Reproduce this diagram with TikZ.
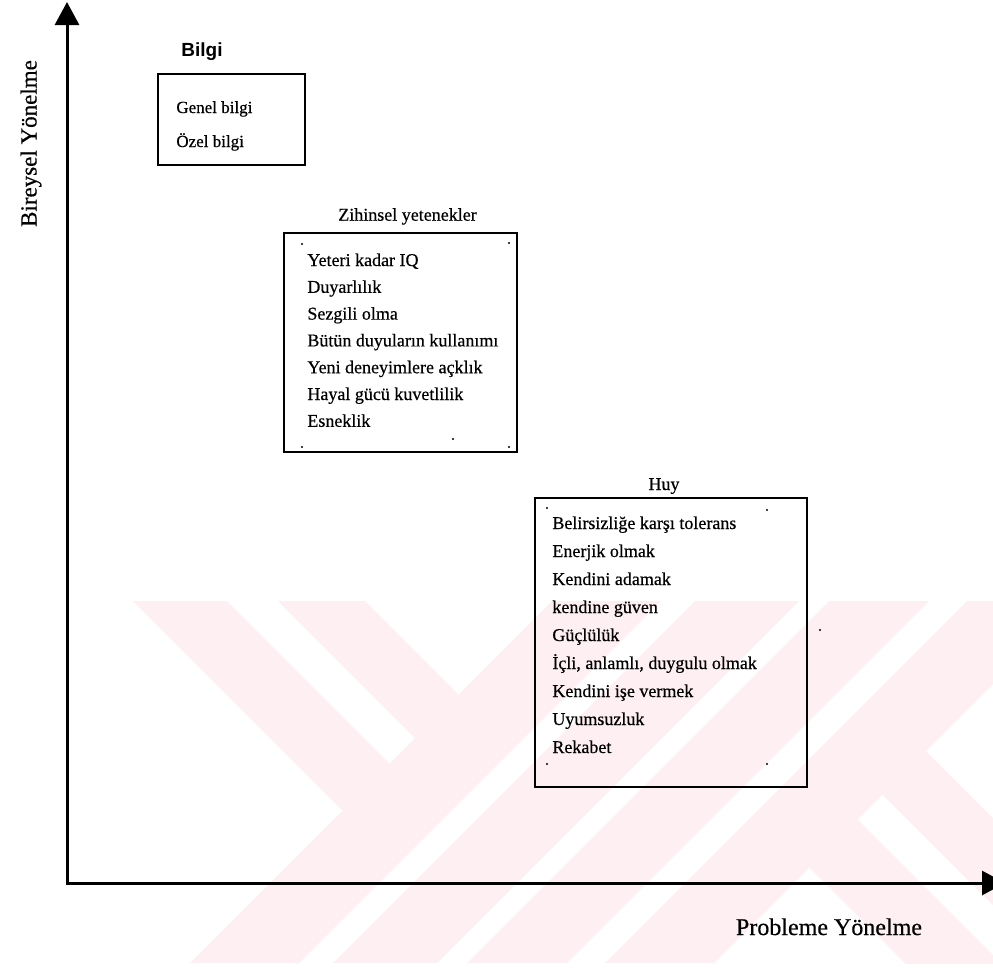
\documentclass[tikz,border=0pt]{standalone}
\usepackage{fontspec}
\setmainfont[FakeBold=0.5]{Liberation Serif}
\newfontfamily\headsans{Liberation Sans}
\usetikzlibrary{positioning,arrows.meta}
\definecolor{wmpink}{RGB}{254,239,242}

\tikzset{
  axis/.style={line width=1.5pt, {Triangle[length=11.5pt,width=12pt]}-{Triangle[length=11.5pt,width=12pt]}},
  groupbox/.style={draw, line width=1.2pt, inner sep=0pt},
  item/.style={anchor=base west, inner sep=0pt, font=\fontsize{9}{10}\selectfont},
  heading/.style={anchor=base, inner sep=0pt, font=\fontsize{9}{10}\selectfont},
  axislabel/.style={anchor=base, inner sep=0pt, font=\fontsize{12}{14}\selectfont},
  speck/.style={fill=black},
  wm/.style={fill=wmpink, draw=none},
}

\begin{document}
\begin{tikzpicture}[x=0.5pt, y=-0.5pt]
    \useasboundingbox (0,0) rectangle (993,971);
%
    \begin{scope}
      \clip (0,601) rectangle (993,963);
      \fill[wm] (133,601) -- (227,601) -- (389.5,763.5) -- (342.5,810.5) -- cycle;
      \fill[wm] (278,601) -- (365,601) -- (458.5,694.5) -- (415,738) -- cycle;
      \foreach \a/\b in {1153/1262, 1296/1400, 1430/1530, 1568/1677}
        \fill[wm] ({\a-601},601) -- ({\b-601},601) -- ({\b-963},963) -- ({\a-963},963) -- cycle;
      \fill[wm] (926,751) -- (1100,925) -- (1100,1012) -- (882.5,794.5) -- cycle;
      \fill[wm] (857.5,819.5) -- (1100,1062) -- (1100,1158) -- (809.5,867.5) -- cycle;
    \end{scope}
%
    \coordinate (ytop) at (67,2);
    \coordinate (orig) at (67,883);
    \coordinate (xend) at (1005,883);
    \draw[axis] (ytop) -- (orig) -- (xend);
    \node[axislabel] (xlabel) at (829,935) {Probleme Yönelme};
    \node[axislabel, rotate=90, font=\fontsize{11.5}{14}\selectfont] (ylabel) at (36.5,143.5) {Bireysel Yönelme};
%
    \node[groupbox, minimum width=73.5pt, minimum height=45.5pt] (bilgi) at (231.5,119.5) {};
    \node[heading, font=\fontsize{9.5}{11}\selectfont\headsans\bfseries] (bilgihead) at (202,56.7) {Bilgi};
    \node[item, font=\fontsize{8.5}{10}\selectfont] (bi0) at (176,113) {Genel bilgi};
    \node[item, font=\fontsize{8.5}{10}\selectfont] (bi1) at (176,147) {Özel bilgi};
%
    \node[groupbox, minimum width=116.5pt, minimum height=109.5pt] (zihin) at (400.5,342.5) {};
    \node[heading] (zihinhead) at (407.5,220.7) {Zihinsel yetenekler};
    \foreach \t [count=\i from 0] in {Yeteri kadar IQ, Duyarlılık, Sezgili olma, Bütün duyuların kullanımı,
        Yeni deneyimlere açklık, Hayal gücü kuvetlilik, Esneklik}
      \node[item] (zi\i) at (307,{266+26.8*\i}) {\t};
%
    \node[groupbox, minimum width=136pt, minimum height=144.5pt] (huy) at (671,642.5) {};
    \node[heading] (huyhead) at (664,490) {Huy};
    \foreach \t [count=\i from 0] in {Belirsizliğe karşı tolerans, Enerjik olmak, Kendini adamak, kendine güven,
        Güçlülük, {İçli, anlamlı, duygulu olmak}, Kendini işe vermek, Uyumsuzluk, Rekabet}
      \node[item] (hu\i) at (552,{529+28*\i}) {\t};
%
    \foreach \p in {(302,244),(509,243),(302,447),(509,447),(453,439),
                    (547,508),(767,510),(547,764),(767,764),(820,630)}
      \fill[speck] \p circle (1.2);
\end{tikzpicture}
\end{document}
